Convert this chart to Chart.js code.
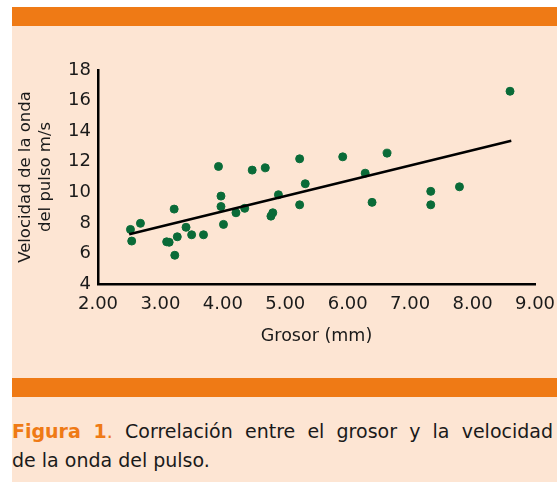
<!DOCTYPE html>
<html>
<head>
<meta charset="utf-8">
<script src="https://cdn.jsdelivr.net/npm/chart.js@4"></script>
<style>
  body { margin: 0; background: #fff; width: 557px; height: 482px; overflow: hidden; }
  .panel { position: absolute; left: 12px; top: 7px; width: 545px; height: 475px; background: #fde5d3; }
  .bar { position: absolute; left: 0; width: 545px; height: 19px; background: #ef7a15; }
  .chart { position: absolute; left: 0; top: 19px; width: 545px; height: 352px; }
  .caption { position: absolute; left: 0; top: 410px; width: 541px; font-family: "DejaVu Sans", sans-serif; font-size: 19px; line-height: 29px; color: #1a1a1a; }
  .caption .l1 { text-align: justify; text-align-last: justify; white-space: nowrap; }
  .caption b { color: #ef7a15; }
</style>
</head>
<body>
<div class="panel">
  <div class="bar" style="top:0"></div>
  <div class="chart"><canvas id="chart_grosor"></canvas></div>
  <div class="bar" style="top:371px"></div>
  <div class="caption">
    <div class="l1"><b>Figura 1</b><span style="color:#ef7a15">.</span> Correlación entre el grosor y la velocidad</div>
    <div>de la onda del pulso.</div>
  </div>
</div>
<script>
var grosor = [2.52, 2.54, 2.68, 3.22, 3.10, 3.14, 3.27, 3.23, 3.41, 3.50, 3.69, 3.93, 3.97, 3.97, 4.01, 4.21, 4.35, 4.47, 4.68, 4.77, 4.80, 4.89, 5.23, 5.32, 5.23, 5.92, 6.28, 6.63, 6.39, 7.33, 7.33, 7.79, 8.60];
var velocidad = [7.57, 6.81, 7.97, 8.90, 6.76, 6.73, 7.09, 5.88, 7.71, 7.22, 7.22, 11.69, 9.75, 9.07, 7.90, 8.66, 8.95, 11.45, 11.60, 8.44, 8.66, 9.84, 12.19, 10.56, 9.18, 12.32, 11.25, 12.56, 9.34, 10.06, 9.18, 10.36, 16.61];
var tendencia_x = [2.50, 8.62];
var tendencia_y = [7.25, 13.37];

function load_chart(){
  var puntos = grosor.map(function (g, i) { return {x: g, y: velocidad[i]}; });
  var linea = tendencia_x.map(function (g, i) { return {x: g, y: tendencia_y[i]}; });
  var font = {family: 'DejaVu Sans', size: 18};

  var ctx = document.getElementById('chart_grosor').getContext('2d');

  new Chart(ctx, {type: 'scatter', data: {
    datasets: [{
      data: linea,
      showLine: true,
      borderColor: '#000',
      borderWidth: 2.5,
      pointRadius: 0,
      order: 0
    }, {
      data: puntos,
      backgroundColor: '#0a6b38',
      borderColor: '#0a6b38',
      pointRadius: 4,
      order: 1
    }]
  }, options: {
    responsive: true,
    maintainAspectRatio: false,
    animation: false,
    layout: { padding: {top: 44, right: 22, bottom: 27} },
    plugins: { legend: { display: false }, tooltip: { enabled: false } },
    scales: {
      x: {
        min: 2, max: 9,
        grid: { display: false, drawTicks: false },
        border: { display: true, color: '#000', width: 2.5 },
        ticks: { stepSize: 1, padding: 10, color: '#1a1a1a', font: font, maxRotation: 0,
          callback: function (v) { return v.toFixed(2); } },
        title: { display: true, text: 'Grosor (mm)', color: '#1a1a1a', font: {family: 'DejaVu Sans', size: 17.5} },
        afterFit: function (s) { s.height = 67; s.paddingLeft = 0; s.paddingRight = 0; }
      },
      y: {
        min: 4, max: 18,
        grid: { display: false, drawTicks: false },
        border: { display: true, color: '#000', width: 2.5 },
        ticks: { stepSize: 2, padding: 7, color: '#1a1a1a', font: font },
        title: { display: true, text: ['Velocidad de la onda', 'del pulso m/s'], color: '#1a1a1a', font: {family: 'DejaVu Sans', size: 16.5}, padding: {top: 4} },
        afterFit: function (s) { s.width = 86; }
      }
    }
  }
  });
}

load_chart();
</script>
</body>
</html>
